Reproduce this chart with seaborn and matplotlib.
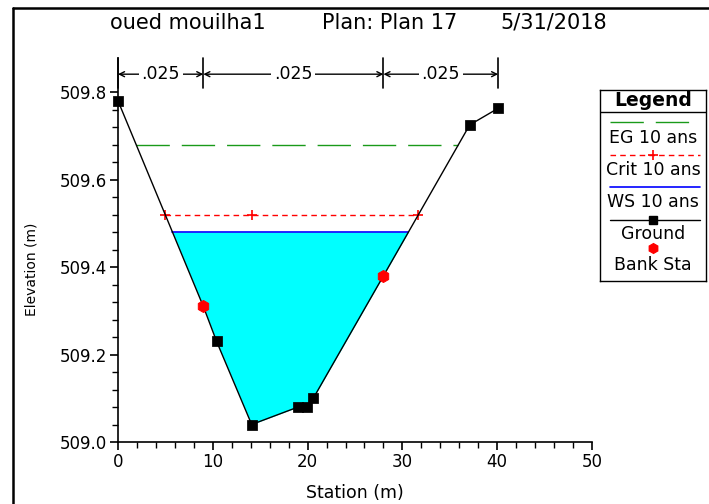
import numpy as np
import seaborn as sns
import matplotlib.pyplot as plt
from matplotlib.lines import Line2D
from matplotlib.ticker import MultipleLocator, FixedLocator

# cross section data
station = np.array([0, 9.0, 10.4, 14.1, 19.0, 19.9, 20.6, 28.0, 37.1, 40.1])
elev = np.array([509.78, 509.31, 509.23, 509.04, 509.08, 509.08, 509.10, 509.38, 509.725, 509.763])
bank_sta = [9.0, 28.0]
bank_elev = [509.31, 509.38]
ws = 509.48    # WS 10 ans
crit = 509.52  # Crit 10 ans
eg = 509.68    # EG 10 ans
n_breaks = [0, 9.0, 28.0, 40.1]
n_values = [".025", ".025", ".025"]
title_parts = ["oued mouilha1", "Plan: Plan 17", "5/31/2018"]

sns.set_style("ticks")
plt.rcParams['font.family'] = ['DejaVu Sans']
plt.rcParams['text.color'] = 'black'
plt.rcParams['axes.labelcolor'] = 'black'
plt.rcParams['xtick.color'] = 'black'
plt.rcParams['ytick.color'] = 'black'

fig = plt.figure(figsize=(7.09, 5.04), dpi=100)
ax = fig.add_axes([118/709, 62/504, (592-118)/709, (442-58)/504])


def crossings(h):
    # where a level h meets the ground, left and right of the thalweg
    i = np.argmin(elev)
    left = np.interp(h, elev[:i+1][::-1], station[:i+1][::-1])
    right = np.interp(h, elev[i:], station[i:])
    return left, right


# water fill
wl, wr = crossings(ws)
inside = (station > wl) & (station < wr)
xf = np.concatenate([[wl], station[inside], [wr]])
yf = np.concatenate([[ws], elev[inside], [ws]])
ax.fill_between(xf, yf, ws, color="#00FFFF", lw=0, zorder=1)

# EG
el, er = crossings(eg)
ax.plot([el, er], [eg, eg], color="#1a9a1a", lw=1.0, dashes=(24, 8.6), zorder=2)
# Crit
cl, cr = crossings(crit)
ax.plot([cl, cr], [crit, crit], color="red", lw=1.0, dashes=(4, 3), zorder=2)
ax.plot([cl, station[np.argmin(elev)], cr], [crit] * 3, ls="none", marker="+",
        color="red", ms=7, mew=1.2, zorder=3)
# WS
ax.plot([wl, wr], [ws, ws], color="blue", lw=1.2, zorder=2)

# ground
not_bank = ~np.isin(station, bank_sta)
sns.lineplot(x=station, y=elev, ax=ax, color="black", lw=1.0, sort=False, zorder=4)
sns.scatterplot(x=station[not_bank], y=elev[not_bank], ax=ax, marker="s", color="black",
                s=45, edgecolor="black", zorder=5, clip_on=False)
sns.scatterplot(x=bank_sta, y=bank_elev, ax=ax, marker="h", color="red", s=75,
                edgecolor="red", zorder=6)

# manning's n brackets
ybot, ytop, yarr = 509.809, 509.878, 509.841
for s in n_breaks:
    ax.plot([s, s], [ybot, ytop], color="black", lw=1.2, clip_on=False, zorder=7)
for a, b, lab in zip(n_breaks[:-1], n_breaks[1:], n_values):
    ax.annotate("", xy=(a, yarr), xytext=(b, yarr),
                arrowprops=dict(arrowstyle="<->", color="black", lw=1.0,
                                shrinkA=0, shrinkB=0, mutation_scale=9),
                annotation_clip=False)
    ax.text((a + b) / 2, yarr, lab, ha="center", va="center", fontsize=12.5,
            bbox=dict(facecolor="white", edgecolor="none", pad=2), zorder=8)

ax.set_xlim(0, 50)
ax.set_ylim(509.0, 509.878)
ax.set_xticks([0, 10, 20, 30, 40, 50])
ax.set_yticks([509.0, 509.2, 509.4, 509.6, 509.8])
ax.set_yticklabels(["509.0", "509.2", "509.4", "509.6", "509.8"])
ax.xaxis.set_minor_locator(MultipleLocator(2))
ax.yaxis.set_minor_locator(FixedLocator(np.arange(509.0, 509.81, 0.04)))
ax.tick_params(which="major", length=6, width=1.2, labelsize=12, color="black", pad=2)
ax.tick_params(which="minor", length=4, width=1.0, color="black")
for sp in ["top", "right"]:
    ax.spines[sp].set_visible(False)
for sp in ["left", "bottom"]:
    ax.spines[sp].set_color("black")
    ax.spines[sp].set_linewidth(1.2)
ax.set_xlabel("Station (m)", fontsize=12.5)
ax.set_ylabel("Elevation (m)", fontsize=10)
ax.xaxis.set_label_coords(0.5, -0.11)
ax.yaxis.set_label_coords(-0.168, 0.45)

for xp, part in zip([110, 322, 500], title_parts):
    fig.text(xp/709, 1 - 23/504, part, ha="left", va="center", fontsize=15)

# frame around the picture (left and top only visible)
fig.add_artist(Line2D([13/709, 13/709], [0, 1 - 8/504], color="black", lw=1.8))
fig.add_artist(Line2D([13/709, 1], [1 - 8/504, 1 - 8/504], color="black", lw=1.8))

# legend box
lg = fig.add_axes([600/709, 1 - 281/504, 106/709, 191/504])
lg.set_xlim(0, 106)
lg.set_ylim(191, 0)
lg.set_xticks([])
lg.set_yticks([])
for sp in lg.spines.values():
    sp.set_color("black")
    sp.set_linewidth(1.0)
lg.text(53, 11, "Legend", ha="center", va="center", fontsize=13.5, fontweight="bold")
lg.plot([0, 106], [22, 22], color="black", lw=1.0)
lg.plot([10, 100], [32, 32], color="#1a9a1a", lw=1.0, dashes=(24, 8.6))
lg.text(53, 48, "EG 10 ans", ha="center", va="center", fontsize=12.5)
lg.plot([10, 100], [65, 65], color="red", lw=1.0, dashes=(4, 3))
lg.plot([53], [65], marker="+", color="red", ms=7, mew=1.2)
lg.text(53, 80, "Crit 10 ans", ha="center", va="center", fontsize=12.5)
lg.plot([10, 100], [97, 97], color="blue", lw=1.2)
lg.text(53, 112, "WS 10 ans", ha="center", va="center", fontsize=12.5)
lg.plot([10, 100], [130, 130], color="black", lw=1.0)
lg.plot([53], [130], marker="s", color="black", ms=6)
lg.text(53, 144, "Ground", ha="center", va="center", fontsize=12.5)
lg.plot([53], [158], marker="h", color="red", ms=7)
lg.text(53, 175, "Bank Sta", ha="center", va="center", fontsize=12.5)

fig.savefig("out.png", dpi=100)
